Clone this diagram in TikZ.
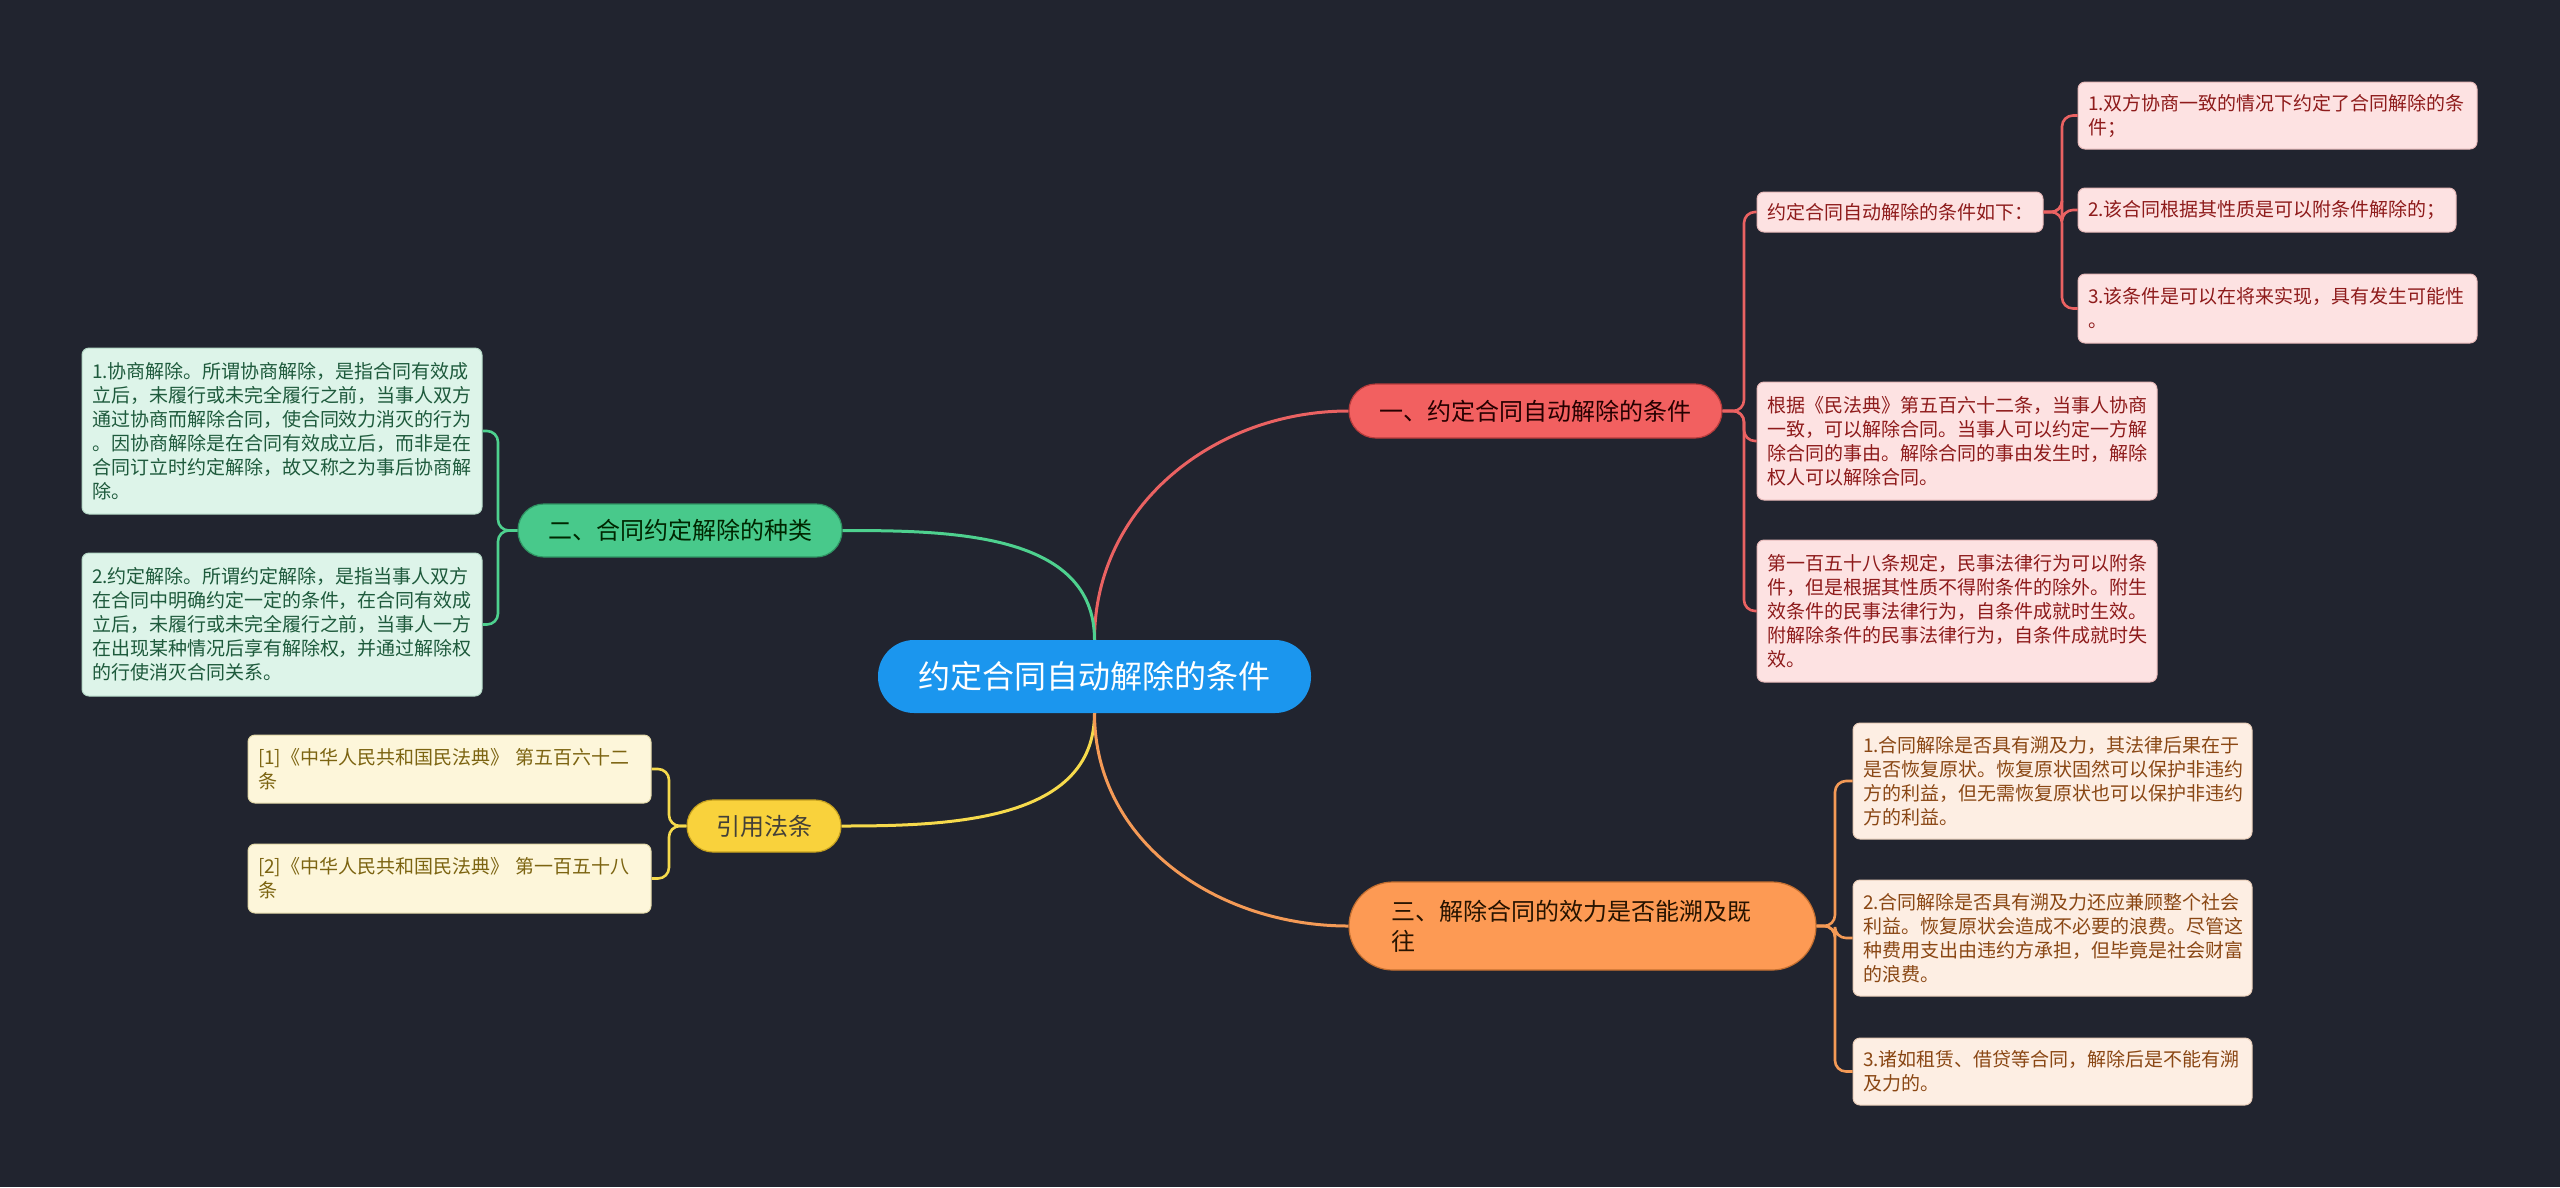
\documentclass[tikz,border=0pt]{standalone}
\usepackage{fontspec}
\setmainfont{Noto Sans CJK SC}
\definecolor{bg}{HTML}{21242F}
\definecolor{cblue}{HTML}{1B96EE}
\definecolor{rmain}{HTML}{F26060}
\definecolor{rmaind}{HTML}{B83C3C}
\definecolor{rleaf}{HTML}{FDE2E2}
\definecolor{rleafd}{HTML}{E7B9B9}
\definecolor{rtext}{HTML}{8E1B1B}
\definecolor{rline}{HTML}{EA6262}
\definecolor{omain}{HTML}{FD9A54}
\definecolor{omaind}{HTML}{C46F30}
\definecolor{oleaf}{HTML}{FDEEE3}
\definecolor{oleafd}{HTML}{E8CDB8}
\definecolor{otext}{HTML}{8A4714}
\definecolor{oline}{HTML}{F49A56}
\definecolor{gmain}{HTML}{48C98B}
\definecolor{gmaind}{HTML}{2F9463}
\definecolor{gleaf}{HTML}{DDF4E9}
\definecolor{gleafd}{HTML}{B5D9C7}
\definecolor{gtext}{HTML}{1E5A3C}
\definecolor{gline}{HTML}{4ED18F}
\definecolor{ymain}{HTML}{F9D23C}
\definecolor{ymaind}{HTML}{C7A21F}
\definecolor{yleaf}{HTML}{FDF6DA}
\definecolor{yleafd}{HTML}{E3D9A8}
\definecolor{ytext}{HTML}{7C6411}
\definecolor{yline}{HTML}{F6DA4C}
\begin{document}
\begin{tikzpicture}[x=1pt,y=-1pt,
  leaf/.style={rectangle, rounded corners=7pt, inner xsep=10pt, inner ysep=3pt,
    align=left, font=\fontsize{19}{24}\selectfont, line width=1pt},
  redleaf/.style={leaf, fill=rleaf, draw=rleafd, text=rtext},
  orleaf/.style={leaf, fill=oleaf, draw=oleafd, text=otext},
  grleaf/.style={leaf, fill=gleaf, draw=gleafd, text=gtext},
  yeleaf/.style={leaf, fill=yleaf, draw=yleafd, text=ytext},
  branch/.style={rectangle, inner sep=0pt, line width=1.2pt, font=\fontsize{24}{30}\selectfont},
  conn/.style={line width=3pt},
  sub/.style={line width=2.6pt, rounded corners=11pt}
]
\useasboundingbox (0,0) rectangle (2560,1187);
\fill[bg] (0,0) rectangle (2560,1187);

% central
\node[rectangle, rounded corners=36pt, fill=cblue, text=white, minimum width=433pt,
  minimum height=73pt, inner sep=0pt, font=\fontsize{32}{38}\selectfont] (c) at (1094.5,676.5) {约定合同自动解除的条件};

% branches
\node[branch, rounded corners=27pt, fill=rmain, draw=rmaind, text=black!85!red,
  minimum width=373pt, minimum height=54pt] (b1) at (1535.5,411) {一、约定合同自动解除的条件};
\node[branch, rounded corners=44pt, fill=omain, draw=omaind, text=black!85!orange,
  minimum width=467pt, minimum height=88pt, text width=383pt, align=left] (b3) at (1582.5,926)
  {三、解除合同的效力是否能溯及既\\往};
\node[branch, rounded corners=26pt, fill=gmain, draw=gmaind, text=black!85!green,
  minimum width=324pt, minimum height=53pt] (b2) at (680,530.5) {二、合同约定解除的种类};
\node[branch, rounded corners=26pt, fill=ymain, draw=ymaind, text=black!85!yellow,
  minimum width=154pt, minimum height=52pt] (b4) at (764,826) {引用法条};

% red leaves
\node[redleaf, text width=266pt, minimum height=40pt] (r1) at (1900,212) {约定合同自动解除的条件如下：};
\node[redleaf, text width=379pt, minimum height=67pt] (r1a) at (2277.5,115.5) {1.双方协商一致的情况下约定了合同解除的条\\件；};
\node[redleaf, text width=358pt, minimum height=44pt] (r1b) at (2267,210) {2.该合同根据其性质是可以附条件解除的；};
\node[redleaf, text width=379pt, minimum height=69pt] (r1c) at (2277.5,308.5) {3.该条件是可以在将来实现，具有发生可能性\\。};
\node[redleaf, text width=380pt, minimum height=118pt] (r2) at (1957,441) {根据《民法典》第五百六十二条，当事人协商\\一致，可以解除合同。当事人可以约定一方解\\除合同的事由。解除合同的事由发生时，解除\\权人可以解除合同。};
\node[redleaf, text width=380pt, minimum height=142pt] (r3) at (1957,611) {第一百五十八条规定，民事法律行为可以附条\\件，但是根据其性质不得附条件的除外。附生\\效条件的民事法律行为，自条件成就时生效。\\附解除条件的民事法律行为，自条件成就时失\\效。};

% orange leaves
\node[orleaf, text width=379pt, minimum height=116pt] (o1) at (2052.5,781) {1.合同解除是否具有溯及力，其法律后果在于\\是否恢复原状。恢复原状固然可以保护非违约\\方的利益，但无需恢复原状也可以保护非违约\\方的利益。};
\node[orleaf, text width=379pt, minimum height=116pt] (o2) at (2052.5,938) {2.合同解除是否具有溯及力还应兼顾整个社会\\利益。恢复原状会造成不必要的浪费。尽管这\\种费用支出由违约方承担，但毕竟是社会财富\\的浪费。};
\node[orleaf, text width=379pt, minimum height=67pt] (o3) at (2052.5,1071.5) {3.诸如租赁、借贷等合同，解除后是不能有溯\\及力的。};

% green leaves
\node[grleaf, text width=380pt, minimum height=166pt] (g1) at (282,431) {1.协商解除。所谓协商解除，是指合同有效成\\立后，未履行或未完全履行之前，当事人双方\\通过协商而解除合同，使合同效力消灭的行为\\。因协商解除是在合同有效成立后，而非是在\\合同订立时约定解除，故又称之为事后协商解\\除。};
\node[grleaf, text width=380pt, minimum height=143pt] (g2) at (282,624.5) {2.约定解除。所谓约定解除，是指当事人双方\\在合同中明确约定一定的条件，在合同有效成\\立后，未履行或未完全履行之前，当事人一方\\在出现某种情况后享有解除权，并通过解除权\\的行使消灭合同关系。};

% yellow leaves
\node[yeleaf, text width=383pt, minimum height=68pt] (y1) at (449.5,769) {[1]《中华人民共和国民法典》 第五百六十二\\条};
\node[yeleaf, text width=383pt, minimum height=69pt] (y2) at (449.5,878.5) {[2]《中华人民共和国民法典》 第一百五十八\\条};

% trunk coordinates
\coordinate (t1) at (1744,411);
\coordinate (t5) at (2062,212);
\coordinate (t3) at (1835,926);
\coordinate (t2) at (498,530.5);
\coordinate (t4) at (669,826);

% center connectors
\draw[conn, rline] (c.north) to[out=90,in=180] (b1.west);
\draw[conn, gline] (c.north) to[out=90,in=0] (b2.east);
\draw[conn, yline] (c.south) to[out=-90,in=0] (b4.east);
\draw[conn, oline] (c.south) to[out=-90,in=180] (b3.west);

% sub connectors
\foreach \n in {r1,r2,r3} \draw[sub, rline] (b1.east) -- (t1) |- (\n.west);
\foreach \n in {r1a,r1b,r1c} \draw[sub, rline] (r1.east) -- (t5) |- (\n.west);
\foreach \n in {o1,o2,o3} \draw[sub, oline] (b3.east) -- (t3) |- (\n.west);
\foreach \n in {g1,g2} \draw[sub, gline] (b2.west) -- (t2) |- (\n.east);
\foreach \n in {y1,y2} \draw[sub, yline] (b4.west) -- (t4) |- (\n.east);
\end{tikzpicture}
\end{document}
